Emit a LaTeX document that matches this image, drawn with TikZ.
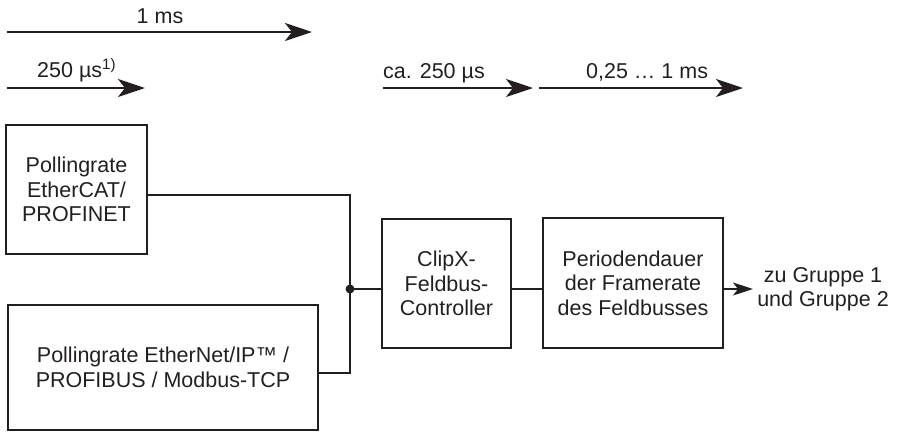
\documentclass[tikz,border=0pt]{standalone}
\usepackage{fontspec}
\setmainfont{Liberation Sans}
\usetikzlibrary{arrows.meta}
\definecolor{ink}{HTML}{231F20}
\begin{document}
\begin{tikzpicture}[x=1pt,y=-1pt,
  every node/.style={text=ink},
  font=\fontsize{21.5}{24.5}\selectfont,
  box/.style={draw=ink,line width=2.6pt,inner sep=0pt,align=center},
  lbl/.style={inner sep=0pt},
  conn/.style={draw=ink,line width=1.6pt},
  tarrow/.style={draw=ink,line width=2.4pt,-{Stealth[length=27pt,width=18pt,inset=7pt]}},
  oarrow/.style={draw=ink,line width=1.6pt,-{Stealth[length=20pt,width=13pt,inset=5pt]}}]
\useasboundingbox (0,0) rectangle (922,432);

% time arrows
\coordinate (a1s) at (7,32); \coordinate (a1e) at (312,32);
\draw[tarrow] (a1s) -- (a1e);
\node[lbl,anchor=base] (l1) at (160,23) {1 ms};

\coordinate (a2s) at (7,88); \coordinate (a2e) at (145,88);
\draw[tarrow] (a2s) -- (a2e);
\node[lbl,anchor=base west] (l2) at (37,77) {250 µs\textsuperscript{1)}};

\coordinate (a3s) at (383,88); \coordinate (a3e) at (533,88);
\draw[tarrow] (a3s) -- (a3e);
\node[lbl,anchor=base west] (l3) at (383,78) {ca. 250 µs};

\coordinate (a4s) at (539,88); \coordinate (a4e) at (743,88);
\draw[tarrow] (a4s) -- (a4e);
\node[lbl,anchor=base west] (l4) at (586,78) {0,25 … 1 ms};

% boxes
\node[box,minimum width=141pt,minimum height=129pt] (b1) at (76.5,189.5)
  {Pollingrate\\EtherCAT/\\PROFINET};
\node[box,minimum width=310pt,minimum height=125pt] (b2) at (163,367.5)
  {Pollingrate EtherNet/IP™ /\\PROFIBUS / Modbus-TCP};
\node[box,minimum width=129pt,minimum height=129pt] (clip) at (446.5,283.5)
  {ClipX-\\Feldbus-\\Controller};
\node[box,minimum width=180pt,minimum height=130pt] (per) at (633,283)
  {Periodendauer\\der Framerate\\des Feldbusses};
\node[lbl,align=center] (grp) at (823,289) {zu Gruppe 1\\und Gruppe 2};

% connectors
\coordinate (j) at (350,289);
\draw[conn] ([yshift=-5.5pt]b1.east) -| (j);
\draw[conn] ([yshift=-5.5pt]b2.east) -| (j);
\draw[conn] (j) -- (j -| clip.west);
\draw[conn] (j -| clip.east) -- (j -| per.west);
\coordinate (oe) at (753,289);
\draw[oarrow] (j -| per.east) -- (oe);
\fill[ink] (j) circle (4.5pt);
\end{tikzpicture}
\end{document}
